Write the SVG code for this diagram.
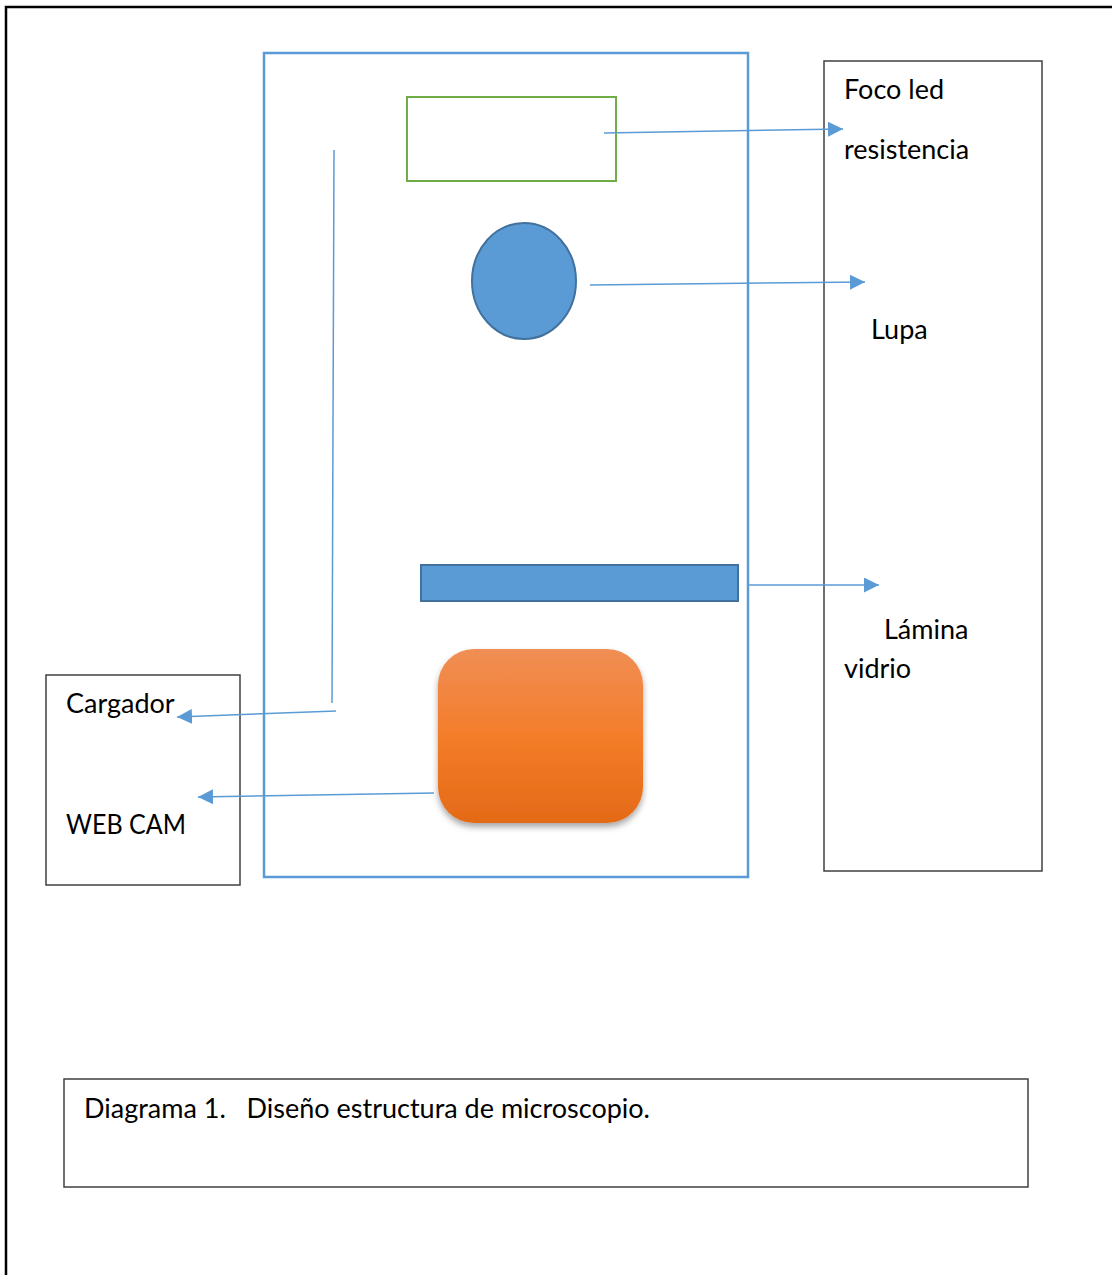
<svg xmlns="http://www.w3.org/2000/svg" width="1112" height="1275" viewBox="0 0 1112 1275">
<style>
.lbl{font-family:Lato,"Liberation Sans",sans-serif;font-size:27px;fill:#000;}
.box{fill:#fff;stroke:#404040;stroke-width:1.5;}
.conn{stroke:#5B9BD5;stroke-width:1.5;fill:none;}
</style>
<defs>
<marker id="ah" markerUnits="userSpaceOnUse" markerWidth="16" markerHeight="15" refX="15" refY="7.5" orient="auto" viewBox="0 0 16 15">
<path d="M0,0 L15,7.5 L0,15 z" fill="#5B9BD5"/>
</marker>
<linearGradient id="og" x1="0" y1="0" x2="0" y2="1">
<stop offset="0" stop-color="#F08E55"/>
<stop offset="0.5" stop-color="#F47D2A"/>
<stop offset="1" stop-color="#E46A17"/>
</linearGradient>
<filter id="sh" x="-10%" y="-10%" width="120%" height="125%">
<feDropShadow dx="0" dy="4" stdDeviation="3" flood-color="#000" flood-opacity="0.35"/>
</filter>
</defs>
<rect width="1112" height="1275" fill="#fff"/>
<path d="M6,1275 V7 H1112" fill="none" stroke="#000" stroke-width="2.5"/>
<g id="frame">
<rect x="264" y="53" width="484" height="824" fill="none" stroke="#5B9BD5" stroke-width="2.5"/>
</g>
<g id="foco">
<rect x="407" y="97" width="209" height="84" fill="none" stroke="#70AD47" stroke-width="2"/>
</g>
<g id="lupa">
<ellipse cx="524" cy="281" rx="52" ry="58" fill="#5B9BD5" stroke="#41719C" stroke-width="2"/>
</g>
<g id="lamina">
<rect x="421" y="565" width="317" height="36" fill="#5B9BD5" stroke="#41719C" stroke-width="2"/>
</g>
<g id="webcam">
<rect x="438" y="649" width="205" height="174" rx="36" ry="36" fill="url(#og)" filter="url(#sh)"/>
</g>
<g id="rightbox">
<rect class="box" x="824" y="61" width="218" height="810"/>
<text class="lbl" x="844" y="99">Foco led</text>
<text class="lbl" x="844" y="159">resistencia</text>
<text class="lbl" x="871" y="339">Lupa</text>
<text class="lbl" x="884" y="639">Lámina</text>
<text class="lbl" x="844" y="678">vidrio</text>
</g>
<g id="leftbox">
<rect class="box" x="46" y="675" width="194" height="210"/>
<text class="lbl" x="66" y="713">Cargador</text>
<text class="lbl" x="66" y="834" textLength="120" lengthAdjust="spacingAndGlyphs">WEB CAM</text>
</g>
<g id="caption">
<rect class="box" x="64" y="1079" width="964" height="108"/>
<text class="lbl" x="84" y="1118" style="white-space:pre" xml:space="preserve">Diagrama 1.   Diseño estructura de microscopio.</text>
</g>
<g id="connectors">
<line class="conn" x1="604" y1="133" x2="843" y2="129" marker-end="url(#ah)"/>
<line class="conn" x1="590" y1="285" x2="865" y2="282" marker-end="url(#ah)"/>
<line class="conn" x1="749" y1="585" x2="879" y2="585" marker-end="url(#ah)"/>
<line class="conn" x1="334" y1="150" x2="332" y2="703"/>
<line class="conn" x1="336" y1="711" x2="177" y2="717" marker-end="url(#ah)"/>
<line class="conn" x1="434" y1="793" x2="198" y2="797" marker-end="url(#ah)"/>
</g>
</svg>
